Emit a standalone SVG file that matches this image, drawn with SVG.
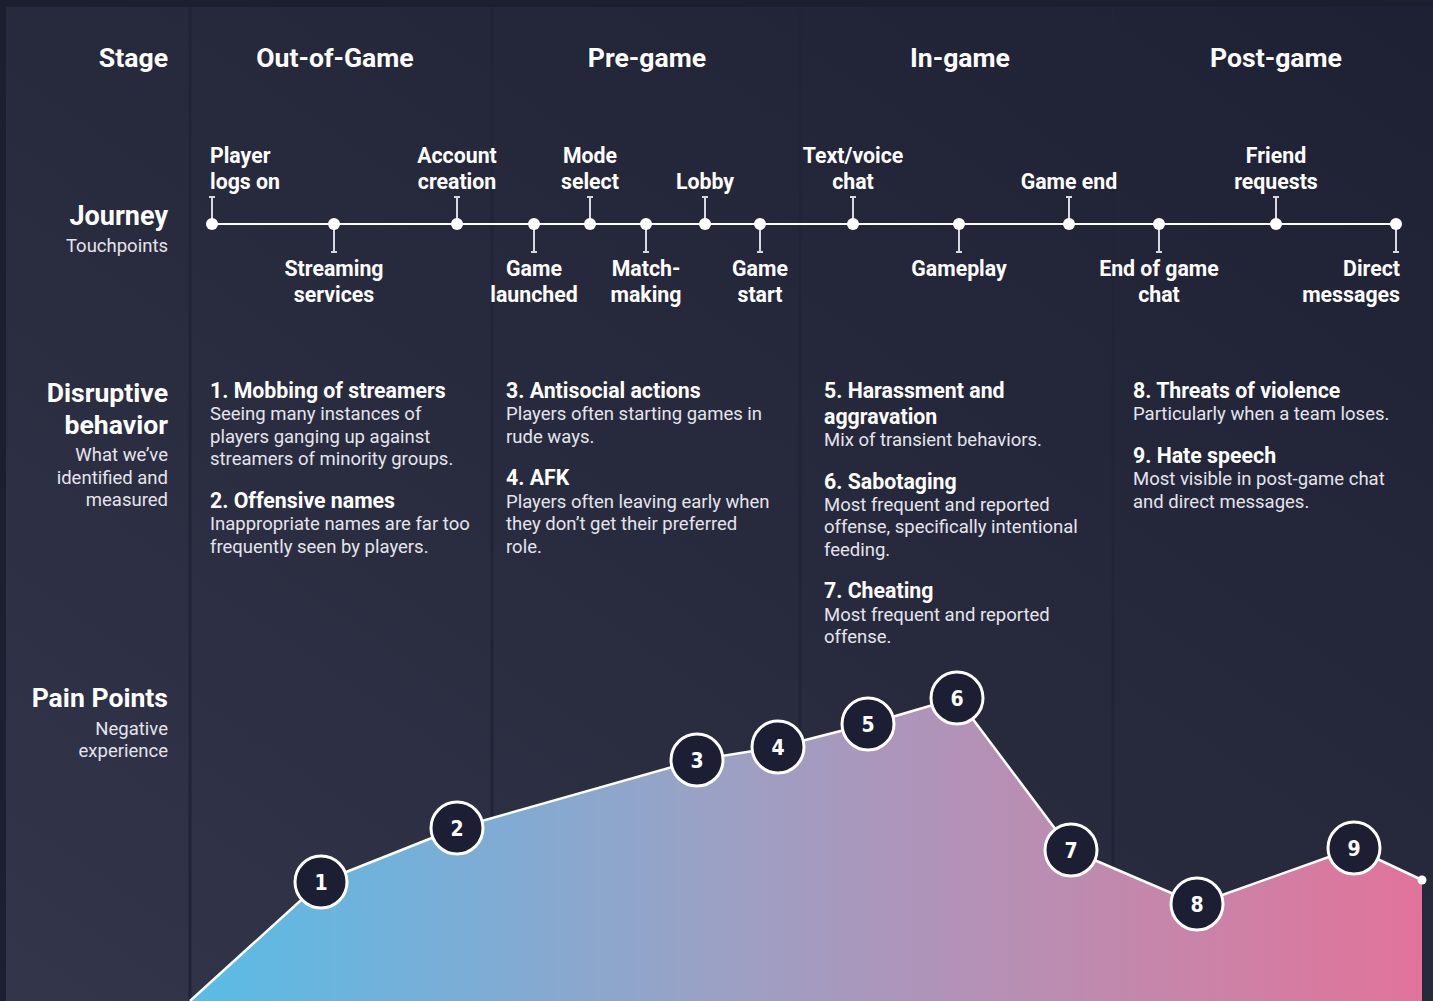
<svg xmlns="http://www.w3.org/2000/svg" width="1433" height="1001" viewBox="0 0 1433 1001">
<defs>
<linearGradient id="bg" x1="0" y1="1" x2="1" y2="0">
<stop offset="0" stop-color="#33364a"/>
<stop offset="0.45" stop-color="#282b3e"/>
<stop offset="1" stop-color="#1e2133"/>
</linearGradient>
<linearGradient id="area" gradientUnits="userSpaceOnUse" x1="190" y1="0" x2="1422" y2="0">
<stop offset="0" stop-color="#58bde6"/>
<stop offset="0.22" stop-color="#7badd6"/>
<stop offset="0.42" stop-color="#9aa1c5"/>
<stop offset="0.62" stop-color="#b292b8"/>
<stop offset="0.75" stop-color="#c189ad"/>
<stop offset="1" stop-color="#e2739a"/>
</linearGradient>
<style>
.h{font-family:Roboto,"Liberation Sans",sans-serif;font-weight:700;fill:#ffffff}
.hl{font-size:26.6px}
.tp{font-size:21.3px;text-anchor:middle}
.sub{font-family:Roboto,"Liberation Sans",sans-serif;font-weight:400;font-size:18.5px;fill:#e4e5ec}
.bt{font-size:21.3px}
.r{text-anchor:end}
.m{text-anchor:middle}
.tick{stroke:#d8d9e0;stroke-width:2;fill:none}
.dot{fill:#ffffff}
.div{stroke:#212436;stroke-width:3}
.pc{fill:#1c1f33;stroke:#ffffff;stroke-width:3}
.pn{font-family:"Liberation Sans Narrow","DejaVu Sans Condensed",Roboto,sans-serif;font-weight:700;font-size:21px;fill:#ffffff;text-anchor:middle}
</style>
</defs>
<rect x="0" y="0" width="1433" height="1001" fill="#1c1f30"/>
<rect x="6" y="7" width="1427" height="994" fill="url(#bg)"/>
<g id="dividers">
<line class="div" x1="190" y1="7" x2="190" y2="1001"/>
<line class="div" x1="492" y1="7" x2="492" y2="1001"/>
<line class="div" x1="800" y1="7" x2="800" y2="1001"/>
<line class="div" x1="1113" y1="7" x2="1113" y2="1001"/>
</g>
<g id="row-labels">
<text class="h hl r" x="168" y="67">Stage</text>
<text class="h r" x="168" y="225" font-size="27">Journey</text>
<text class="sub r" x="168" y="252">Touchpoints</text>
<text class="h hl r" x="168" y="402">Disruptive</text>
<text class="h hl r" x="168" y="434">behavior</text>
<text class="sub r" x="168" y="461">What we’ve</text>
<text class="sub r" x="168" y="484">identified and</text>
<text class="sub r" x="168" y="506">measured</text>
<text class="h hl r" x="168" y="707">Pain Points</text>
<text class="sub r" x="168" y="735">Negative</text>
<text class="sub r" x="168" y="757">experience</text>
</g>
<g id="stages">
<text class="h hl m" x="335" y="67">Out-of-Game</text>
<text class="h hl m" x="647" y="67">Pre-game</text>
<text class="h hl m" x="960" y="67">In-game</text>
<text class="h hl m" x="1276" y="67">Post-game</text>
</g>
<g id="connectors">
<line x1="212" y1="224" x2="1396" y2="224" stroke="#ffffff" stroke-width="2"/>
<path class="tick" d="M212 224V197M209 197H215"/>
<path class="tick" d="M334 224V252M331 252H337"/>
<path class="tick" d="M457 224V197M454 197H460"/>
<path class="tick" d="M534 224V252M531 252H537"/>
<path class="tick" d="M590 224V197M587 197H593"/>
<path class="tick" d="M646 224V252M643 252H649"/>
<path class="tick" d="M705 224V197M702 197H708"/>
<path class="tick" d="M760 224V252M757 252H763"/>
<path class="tick" d="M853 224V197M850 197H856"/>
<path class="tick" d="M959 224V252M956 252H962"/>
<path class="tick" d="M1069 224V197M1066 197H1072"/>
<path class="tick" d="M1159 224V252M1156 252H1162"/>
<path class="tick" d="M1276 224V197M1273 197H1279"/>
<path class="tick" d="M1396 224V252M1393 252H1399"/>
</g>
<g id="touchpoints">
<g id="tp-player-logs-on"><circle class="dot" cx="212" cy="224" r="6"/><text class="h" font-size="21.3" x="210" y="163">Player</text><text class="h" font-size="21.3" x="210" y="189">logs on</text></g>
<g id="tp-streaming"><circle class="dot" cx="334" cy="224" r="6"/><text class="h tp" x="334" y="276">Streaming</text><text class="h tp" x="334" y="302">services</text></g>
<g id="tp-account"><circle class="dot" cx="457" cy="224" r="6"/><text class="h tp" x="457" y="163">Account</text><text class="h tp" x="457" y="189">creation</text></g>
<g id="tp-game-launched"><circle class="dot" cx="534" cy="224" r="6"/><text class="h tp" x="534" y="276">Game</text><text class="h tp" x="534" y="302">launched</text></g>
<g id="tp-mode-select"><circle class="dot" cx="590" cy="224" r="6"/><text class="h tp" x="590" y="163">Mode</text><text class="h tp" x="590" y="189">select</text></g>
<g id="tp-matchmaking"><circle class="dot" cx="646" cy="224" r="6"/><text class="h tp" x="646" y="276">Match-</text><text class="h tp" x="646" y="302">making</text></g>
<g id="tp-lobby"><circle class="dot" cx="705" cy="224" r="6"/><text class="h tp" x="705" y="189">Lobby</text></g>
<g id="tp-game-start"><circle class="dot" cx="760" cy="224" r="6"/><text class="h tp" x="760" y="276">Game</text><text class="h tp" x="760" y="302">start</text></g>
<g id="tp-text-voice"><circle class="dot" cx="853" cy="224" r="6"/><text class="h tp" x="853" y="163">Text/voice</text><text class="h tp" x="853" y="189">chat</text></g>
<g id="tp-gameplay"><circle class="dot" cx="959" cy="224" r="6"/><text class="h tp" x="959" y="276">Gameplay</text></g>
<g id="tp-game-end"><circle class="dot" cx="1069" cy="224" r="6"/><text class="h tp" x="1069" y="189">Game end</text></g>
<g id="tp-end-chat"><circle class="dot" cx="1159" cy="224" r="6"/><text class="h tp" x="1159" y="276">End of game</text><text class="h tp" x="1159" y="302">chat</text></g>
<g id="tp-friend"><circle class="dot" cx="1276" cy="224" r="6"/><text class="h tp" x="1276" y="163">Friend</text><text class="h tp" x="1276" y="189">requests</text></g>
<g id="tp-direct"><circle class="dot" cx="1396" cy="224" r="6"/><text class="h r" font-size="21.3" x="1400" y="276">Direct</text><text class="h r" font-size="21.3" x="1400" y="302">messages</text></g>
</g>
<g id="behaviors">
<g id="b1"><text class="h bt" x="210" y="398">1. Mobbing of streamers</text><text class="sub" x="210" y="420">Seeing many instances of</text><text class="sub" x="210" y="443">players ganging up against</text><text class="sub" x="210" y="465">streamers of minority groups.</text></g>
<g id="b2"><text class="h bt" x="210" y="508">2. Offensive names</text><text class="sub" x="210" y="530">Inappropriate names are far too</text><text class="sub" x="210" y="553">frequently seen by players.</text></g>
<g id="b3"><text class="h bt" x="506" y="398">3. Antisocial actions</text><text class="sub" x="506" y="420">Players often starting games in</text><text class="sub" x="506" y="443">rude ways.</text></g>
<g id="b4"><text class="h bt" x="506" y="485">4. AFK</text><text class="sub" x="506" y="508">Players often leaving early when</text><text class="sub" x="506" y="530">they don’t get their preferred</text><text class="sub" x="506" y="553">role.</text></g>
<g id="b5"><text class="h bt" x="824" y="398">5. Harassment and</text><text class="h bt" x="824" y="424">aggravation</text><text class="sub" x="824" y="446">Mix of transient behaviors.</text></g>
<g id="b6"><text class="h bt" x="824" y="489">6. Sabotaging</text><text class="sub" x="824" y="511">Most frequent and reported</text><text class="sub" x="824" y="533">offense, specifically intentional</text><text class="sub" x="824" y="556">feeding.</text></g>
<g id="b7"><text class="h bt" x="824" y="598">7. Cheating</text><text class="sub" x="824" y="621">Most frequent and reported</text><text class="sub" x="824" y="643">offense.</text></g>
<g id="b8"><text class="h bt" x="1133" y="398">8. Threats of violence</text><text class="sub" x="1133" y="420">Particularly when a team loses.</text></g>
<g id="b9"><text class="h bt" x="1133" y="463">9. Hate speech</text><text class="sub" x="1133" y="485">Most visible in post-game chat</text><text class="sub" x="1133" y="508">and direct messages.</text></g>
</g>
<g id="pain-chart">
<polygon points="190,1001 321,882 457,828 697,760 778,747 868,724 957,698 1071,850 1197,904 1354,848 1422,880 1422,1001" fill="url(#area)"/>
<polyline points="190,1001 321,882 457,828 697,760 778,747 868,724 957,698 1071,850 1197,904 1354,848 1422,880" fill="none" stroke="#ffffff" stroke-width="2.5" stroke-linejoin="round"/>
<circle cx="1422" cy="880" r="4.5" fill="#ffffff"/>
</g>
<g id="pain-points">
<g id="p1"><circle class="pc" cx="321" cy="882" r="26"/><text class="pn" x="321" y="890">1</text></g>
<g id="p2"><circle class="pc" cx="457" cy="828" r="26"/><text class="pn" x="457" y="836">2</text></g>
<g id="p3"><circle class="pc" cx="697" cy="760" r="26"/><text class="pn" x="697" y="768">3</text></g>
<g id="p4"><circle class="pc" cx="778" cy="747" r="26"/><text class="pn" x="778" y="755">4</text></g>
<g id="p5"><circle class="pc" cx="868" cy="724" r="26"/><text class="pn" x="868" y="732">5</text></g>
<g id="p6"><circle class="pc" cx="957" cy="698" r="26"/><text class="pn" x="957" y="706">6</text></g>
<g id="p7"><circle class="pc" cx="1071" cy="850" r="26"/><text class="pn" x="1071" y="858">7</text></g>
<g id="p8"><circle class="pc" cx="1197" cy="904" r="26"/><text class="pn" x="1197" y="912">8</text></g>
<g id="p9"><circle class="pc" cx="1354" cy="848" r="26"/><text class="pn" x="1354" y="856">9</text></g>
</g>
</svg>
